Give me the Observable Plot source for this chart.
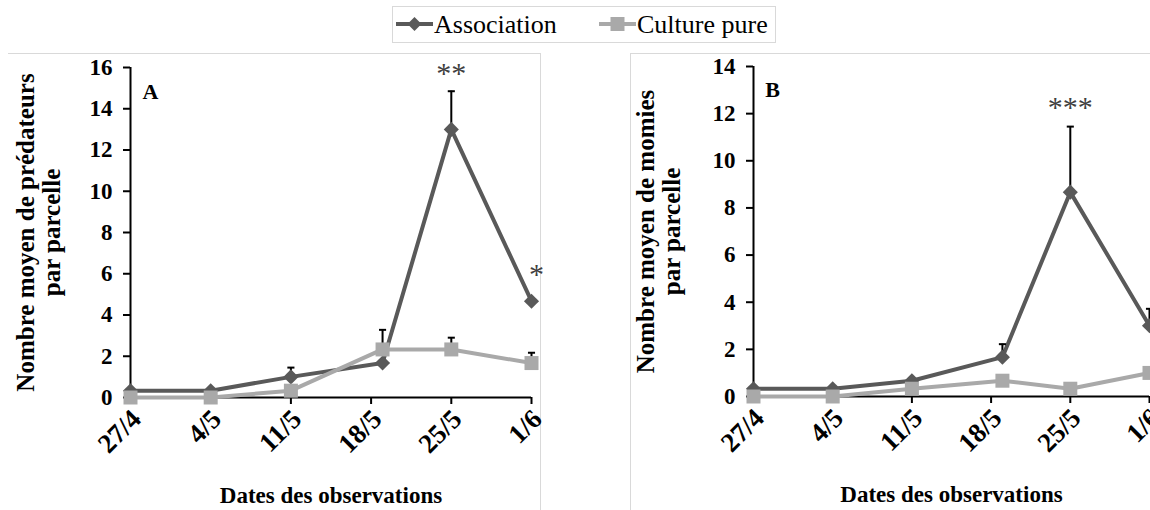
<!DOCTYPE html>
<html><head><meta charset="utf-8">
<script src="https://cdn.jsdelivr.net/npm/d3@7"></script>
<script src="https://cdn.jsdelivr.net/npm/@observablehq/plot@0.6"></script>
<style>
html,body{margin:0;padding:0;background:#fff;overflow:hidden;width:1150px;height:510px;}
#root{position:relative;width:1150px;height:510px;overflow:hidden;font-family:"Liberation Serif","Times New Roman",serif;}
.frame{position:absolute;box-sizing:border-box;}
#legend{position:absolute;left:392px;top:6px;width:384px;height:37px;border:1px solid #d9d9d9;box-sizing:border-box;}
#root svg.plot{position:absolute;top:53px;}
</style></head><body><div id="root"></div>
<script>
// ---- data ----
const tickDates  = ["2014-04-27","2014-05-04","2014-05-11","2014-05-18","2014-05-25","2014-06-01"];
const tickLabels = ["27/4","4/5","11/5","18/5","25/5","1/6"];
const obsDates   = ["2014-04-27","2014-05-04","2014-05-11","2014-05-19","2014-05-25","2014-06-01"];
const seriesNames = ["Association","Culture pure"];
const seriesColors = ["#595959","#a9a9a9"];

// Panel A : prédateurs
const predAssoc    = [0.33, 0.33, 1.00, 1.67, 13.00, 4.67];
const predAssocErr = [0,    0,    0.45, 0,    1.85,  0];
const predPure     = [0,    0,    0.33, 2.33, 2.33,  1.67];
const predPureErr  = [0,    0,    0,    0.95, 0.57,  0.50];
const yTicksA = [0,2,4,6,8,10,12,14,16];
const starDatesA  = ["2014-05-25","2014-06-01"];
const starLabelsA = ["**","*"];

// Panel B : momies
const momAssoc    = [0.33, 0.33, 0.67, 1.67, 8.67, 3.00];
const momAssocErr = [0,    0,    0,    0.55, 2.78, 0.72];
const momPure     = [0,    0,    0.33, 0.67, 0.33, 1.00];
const momPureErr  = [0,    0,    0,    0,    0,    0];
const yTicksB = [0,2,4,6,8,10,12,14];
const starDatesB  = ["2014-05-25"];
const starLabelsB = ["***"];

const xTitle = "Dates des observations";
const yTitleA = "Nombre moyen de prédateurs\npar parcelle";
const yTitleB = "Nombre moyen de momies\npar parcelle";

// ---- helpers ----
const parse = s => new Date(s + "T00:00:00Z");
const tickDatesP = tickDates.map(parse);
const tickRows = tickDatesP.map((d,i)=>({date:d, label:tickLabels[i]}));
const capSymbol = {draw(ctx, size){ const w = Math.sqrt(size)/2; ctx.moveTo(-w,0); ctx.lineTo(w,0); }};
const root = d3.select("#root");
const FONT = "'Liberation Serif','Times New Roman',serif";

function makePanel(cfg){
  const assocData = obsDates.map((d,i)=>({date:parse(d), value:cfg.assoc[i], err:cfg.assocErr[i]}));
  const pureData  = obsDates.map((d,i)=>({date:parse(d), value:cfg.pure[i],  err:cfg.pureErr[i]}));
  const errData = assocData.concat(pureData).filter(d=>d.err>0);
  const starData = cfg.starDates.map((s,i)=>{
    const a = assocData.find(d=>+d.date===+parse(s));
    return {date:a.date, y:a.value+a.err, label:cfg.starLabels[i], dy:cfg.starDy[i], dx:cfg.starDx[i]};
  });
  const svg = Plot.plot({
    width: cfg.width, height: 457,
    marginLeft: cfg.ml, marginRight: cfg.mr, marginTop: cfg.mt, marginBottom: cfg.mb,
    style: {fontFamily:FONT, fontSize:"22px", color:"black", background:"transparent", overflow:"visible"},
    x: {type:"utc", domain:[tickDatesP[0], tickDatesP[tickDatesP.length-1]]},
    y: {domain:[0, cfg.yMax]},
    marks: [
      Plot.axisX(tickDatesP, {tickSize:7, tickFormat:()=>"", stroke:"black", strokeWidth:2, label:null}),
      Plot.text(tickRows, {x:"date", text:"label", frameAnchor:"bottom", rotate:-45, textAnchor:"end", lineAnchor:"middle",
        dx:6, dy:17, fontSize:27, fontWeight:"bold", fill:"black"}),
      Plot.axisY(cfg.yTicks, {tickSize:7, tickPadding:11, fontWeight:"bold", fontSize:23, stroke:"black", strokeWidth:2, label:null}),
      Plot.ruleY([0], {stroke:"black", strokeWidth:2}),
      Plot.ruleX([tickDatesP[0]], {stroke:"black", strokeWidth:2}),
      Plot.text([cfg.yTitle], {frameAnchor:"left", rotate:-90, dx:-(cfg.ml-cfg.yTitleX), fontSize:25, fontWeight:"bold", lineHeight:1.06, textAnchor:"middle", lineAnchor:"middle", fill:"black"}),
      Plot.text([xTitle], {frameAnchor:"bottom", dy:98, fontSize:23, fontWeight:"bold", lineAnchor:"middle", fill:"black"}),
      Plot.text([cfg.letter], {frameAnchor:"top-left", dx:cfg.letterDx, dy:cfg.letterDy, fontSize:22, fontWeight:"bold", textAnchor:"middle", lineAnchor:"middle", fill:"black"}),
      Plot.line(assocData, {x:"date", y:"value", stroke:seriesColors[0], strokeWidth:4}),
      Plot.ruleX(errData, {x:"date", y1:"value", y2:d=>d.value+d.err, stroke:"black", strokeWidth:2}),
      Plot.dot(errData, {x:"date", y:d=>d.value+d.err, symbol:capSymbol, r:4, fill:"none", stroke:"black", strokeWidth:2}),
      Plot.dot(assocData, {x:"date", y:"value", symbol:"diamond2", r:6.8, fill:seriesColors[0], stroke:"none"}),
      Plot.line(pureData, {x:"date", y:"value", stroke:seriesColors[1], strokeWidth:4}),
      Plot.dot(pureData, {x:"date", y:"value", symbol:"square", r:7.9, fill:seriesColors[1], stroke:"none"}),
      ...starData.map(s=>Plot.text([s], {x:"date", y:"y", text:"label", dy:s.dy, dx:s.dx, fontSize:30, fill:"#404040", lineAnchor:"middle"}))
    ]
  });
  svg.classList.add("plot");
  svg.style.left = cfg.left + "px";
  root.node().appendChild(svg);
}

// frames
root.append("div").attr("class","frame").style("left","8px").style("top","53px").style("width","533px").style("height","470px")
  .style("border-top","1px solid #d9d9d9").style("border-right","1px solid #d9d9d9");
root.append("div").attr("class","frame").style("left","630px").style("top","53px").style("width","540px").style("height","470px")
  .style("border-top","1px solid #d9d9d9").style("border-left","1px solid #d9d9d9");

makePanel({assoc:predAssoc, assocErr:predAssocErr, pure:predPure, pureErr:predPureErr, yMax:16, yTicks:yTicksA,
  starDates:starDatesA, starLabels:starLabelsA, starDy:[-18,-27], starDx:[0,5],
  yTitle:yTitleA, yTitleX:38, letter:"A", letterDx:20, letterDy:24,
  left:0, width:540, ml:130, mr:9, mt:14, mb:113});
makePanel({assoc:momAssoc, assocErr:momAssocErr, pure:momPure, pureErr:momPureErr, yMax:14, yTicks:yTicksB,
  starDates:starDatesB, starLabels:starLabelsB, starDy:[-19], starDx:[0],
  yTitle:yTitleB, yTitleX:28, letter:"B", letterDx:19, letterDy:23,
  left:630, width:529, ml:123, mr:10, mt:13, mb:114});

// legend
const lg = root.append("div").attr("id","legend");
const ls = lg.append("svg").attr("width",382).attr("height",35).style("position","absolute").style("left","0").style("top","0");
const items = [{x0:3, name:seriesNames[0], color:seriesColors[0], sym:"diamond"},{x0:206, name:seriesNames[1], color:seriesColors[1], sym:"square"}];
items.forEach(it=>{
  const g = ls.append("g");
  g.append("line").attr("x1",it.x0).attr("x2",it.x0+37).attr("y1",17).attr("y2",17).attr("stroke",it.color).attr("stroke-width",4);
  const cx = it.x0+18.5;
  if(it.sym==="diamond") g.append("path").attr("d",`M${cx},${17-7}L${cx+7},17L${cx},${17+7}L${cx-7},17Z`).attr("fill",it.color);
  else g.append("rect").attr("x",cx-7).attr("y",10).attr("width",14).attr("height",14).attr("fill",it.color);
  g.append("text").attr("x",it.x0+38).attr("y",26).attr("font-size",26).attr("font-family",FONT).attr("fill","black").text(it.name);
});
</script></body></html>
